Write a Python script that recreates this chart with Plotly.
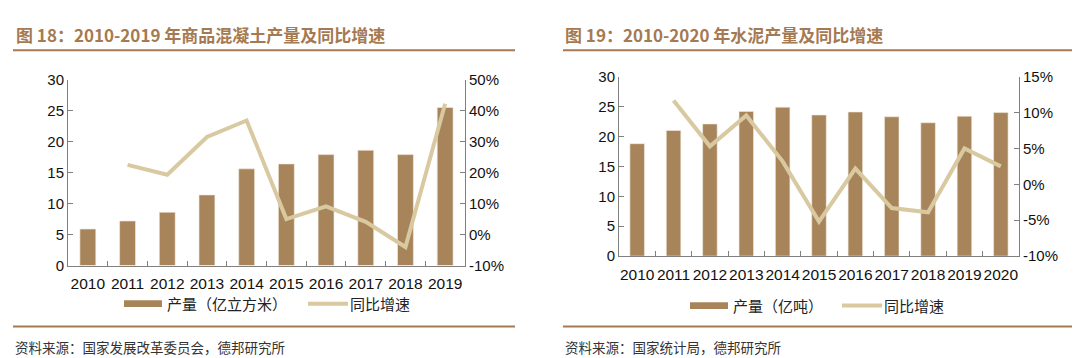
import plotly.graph_objects as go

# ---- data ----
years_a = ["2010", "2011", "2012", "2013", "2014", "2015", "2016", "2017", "2018", "2019"]
concrete_output = [5.9, 7.2, 8.6, 11.4, 15.6, 16.4, 17.9, 18.6, 17.9, 25.5]
concrete_yoy = [None, 22.5, 19.3, 31.5, 36.8, 5.0, 9.1, 4.1, -4.0, 42.2]

years_b = ["2010", "2011", "2012", "2013", "2014", "2015", "2016", "2017", "2018", "2019", "2020"]
cement_output = [18.8, 21.0, 22.1, 24.2, 24.9, 23.6, 24.1, 23.3, 22.3, 23.4, 24.0]
cement_yoy = [None, 11.7, 5.3, 9.6, 3.2, -5.2, 2.2, -3.3, -3.9, 5.0, 2.5]

left_ticks = [0, 5, 10, 15, 20, 25, 30]
right_ticks_a = [-10, 0, 10, 20, 30, 40, 50]
right_ticks_b = [-10, -5, 0, 5, 10, 15]

title_a = "图 18：2010-2019 年商品混凝土产量及同比增速"
title_b = "图 19：2010-2020 年水泥产量及同比增速"
bar_name_a = "产量（亿立方米）"
bar_name_b = "产量（亿吨）"
line_name = "同比增速"
source_a = "资料来源：国家发展改革委员会，德邦研究所"
source_b = "资料来源：国家统计局，德邦研究所"

# ---- styles ----
W, H = 1080, 358
BAR = "#a8845b"
LINE = "#d9c9a1"
BROWN = "#a57a52"
AXIS = "#808080"
NUM_FONT = "Liberation Sans, Arial, sans-serif"
CJK_FONT = "Noto Sans CJK SC, sans-serif"


def px_x(x):
    return x / W


def px_y(y):
    return 1 - y / H


fig = go.Figure()

fig.add_trace(go.Bar(x=years_a, y=concrete_output, marker=dict(color=BAR, line=dict(color="#f3ece2", width=0.6)),
                     width=0.4, xaxis="x", yaxis="y", showlegend=False))
fig.add_trace(go.Scatter(x=years_a, y=concrete_yoy, mode="lines", line=dict(color=LINE, width=4),
                         xaxis="x", yaxis="y2", showlegend=False, connectgaps=False))
fig.add_trace(go.Bar(x=years_b, y=cement_output, marker=dict(color=BAR, line=dict(color="#f3ece2", width=0.6)),
                     width=0.4, xaxis="x3", yaxis="y3", showlegend=False))
fig.add_trace(go.Scatter(x=years_b, y=cement_yoy, mode="lines", line=dict(color=LINE, width=4),
                         xaxis="x3", yaxis="y4", showlegend=False, connectgaps=False))

tickfont = dict(family=NUM_FONT, size=15, color="#111")
xcommon = dict(type="category", showline=True, linecolor=AXIS, linewidth=1, ticks="inside", ticklen=5,
               tickcolor=AXIS, tickson="boundaries", showgrid=False, zeroline=False, tickangle=0,
               ticklabelstandoff=4)
ycommon = dict(showline=True, linecolor=AXIS, linewidth=1, ticks="inside", ticklen=5, tickcolor=AXIS,
               showgrid=False, zeroline=False, tickfont=tickfont)

dom_a_x = [px_x(60), px_x(457)]
dom_a_y = [px_y(261), px_y(65.7)]
dom_b_x = [px_x(611), px_x(1011)]
dom_b_y = [px_y(251), px_y(62.7)]

fig.update_layout(
    width=W, height=H, margin=dict(l=0, r=0, t=0, b=0),
    paper_bgcolor="white", plot_bgcolor="white",
    xaxis=dict(domain=dom_a_x, anchor="y", tickfont=dict(family=NUM_FONT, size=15.5, color="#111"), **xcommon),
    yaxis=dict(domain=dom_a_y, anchor="x", range=[0, 30], tickvals=left_ticks, **ycommon),
    yaxis2=dict(overlaying="y", side="right", anchor="x", range=[-10, 50], tickvals=right_ticks_a,
                ticktext=[f"{v}%" for v in right_ticks_a], **ycommon),
    xaxis3=dict(domain=dom_b_x, anchor="y3", tickfont=dict(family=NUM_FONT, size=15.5, color="#111"), **xcommon),
    yaxis3=dict(domain=dom_b_y, anchor="x3", range=[0, 30], tickvals=left_ticks, **ycommon),
    yaxis4=dict(overlaying="y3", side="right", anchor="x3", range=[-10, 15], tickvals=right_ticks_b,
                ticktext=[f"{v}%" for v in right_ticks_b], **ycommon),
)

shapes = []
annotations = []

# titles and rules
annotations.append(dict(x=px_x(6), y=px_y(18), xref="paper", yref="paper", xanchor="left", yanchor="middle",
                        text="<b>" + title_a + "</b>", showarrow=False,
                        font=dict(family=CJK_FONT, size=17, color=BROWN)))
annotations.append(dict(x=px_x(555), y=px_y(18), xref="paper", yref="paper", xanchor="left", yanchor="middle",
                        text="<b>" + title_b + "</b>", showarrow=False,
                        font=dict(family=CJK_FONT, size=17, color=BROWN)))
for (x0, x1) in [(5, 507), (555, 1080)]:
    shapes.append(dict(type="line", xref="paper", yref="paper", x0=px_x(x0), x1=px_x(x1),
                       y0=px_y(35), y1=px_y(35), line=dict(color=BROWN, width=2)))
    shapes.append(dict(type="line", xref="paper", yref="paper", x0=px_x(x0), x1=px_x(x1),
                       y0=px_y(325), y1=px_y(325), line=dict(color=BROWN, width=2)))

# sources
annotations.append(dict(x=px_x(5), y=px_y(346), xref="paper", yref="paper", xanchor="left", yanchor="middle",
                        text=source_a, showarrow=False, font=dict(family=CJK_FONT, size=13.5, color="#333")))
annotations.append(dict(x=px_x(555), y=px_y(346), xref="paper", yref="paper", xanchor="left", yanchor="middle",
                        text=source_b, showarrow=False, font=dict(family=CJK_FONT, size=13.5, color="#333")))

# legends (drawn as keys + labels)
def legend(y, bar_x0, bar_label, line_x0):
    shapes.append(dict(type="rect", xref="paper", yref="paper", x0=px_x(bar_x0), x1=px_x(bar_x0 + 38),
                       y0=px_y(y + 3.5), y1=px_y(y - 3.5), line=dict(width=0), fillcolor=BAR))
    annotations.append(dict(x=px_x(bar_x0 + 41), y=px_y(y), xref="paper", yref="paper", xanchor="left",
                            yanchor="middle", text=bar_label, showarrow=False,
                            font=dict(family=CJK_FONT, size=15, color="#222")))
    shapes.append(dict(type="line", xref="paper", yref="paper", x0=px_x(line_x0), x1=px_x(line_x0 + 40),
                       y0=px_y(y), y1=px_y(y), line=dict(color=LINE, width=4)))
    annotations.append(dict(x=px_x(line_x0 + 40), y=px_y(y), xref="paper", yref="paper", xanchor="left",
                            yanchor="middle", text=line_name, showarrow=False,
                            font=dict(family=CJK_FONT, size=15, color="#222")))

legend(301, 116, bar_name_a, 300)
legend(303, 682, bar_name_b, 834)

fig.update_layout(shapes=shapes, annotations=annotations)
fig.write_html("out.html")
